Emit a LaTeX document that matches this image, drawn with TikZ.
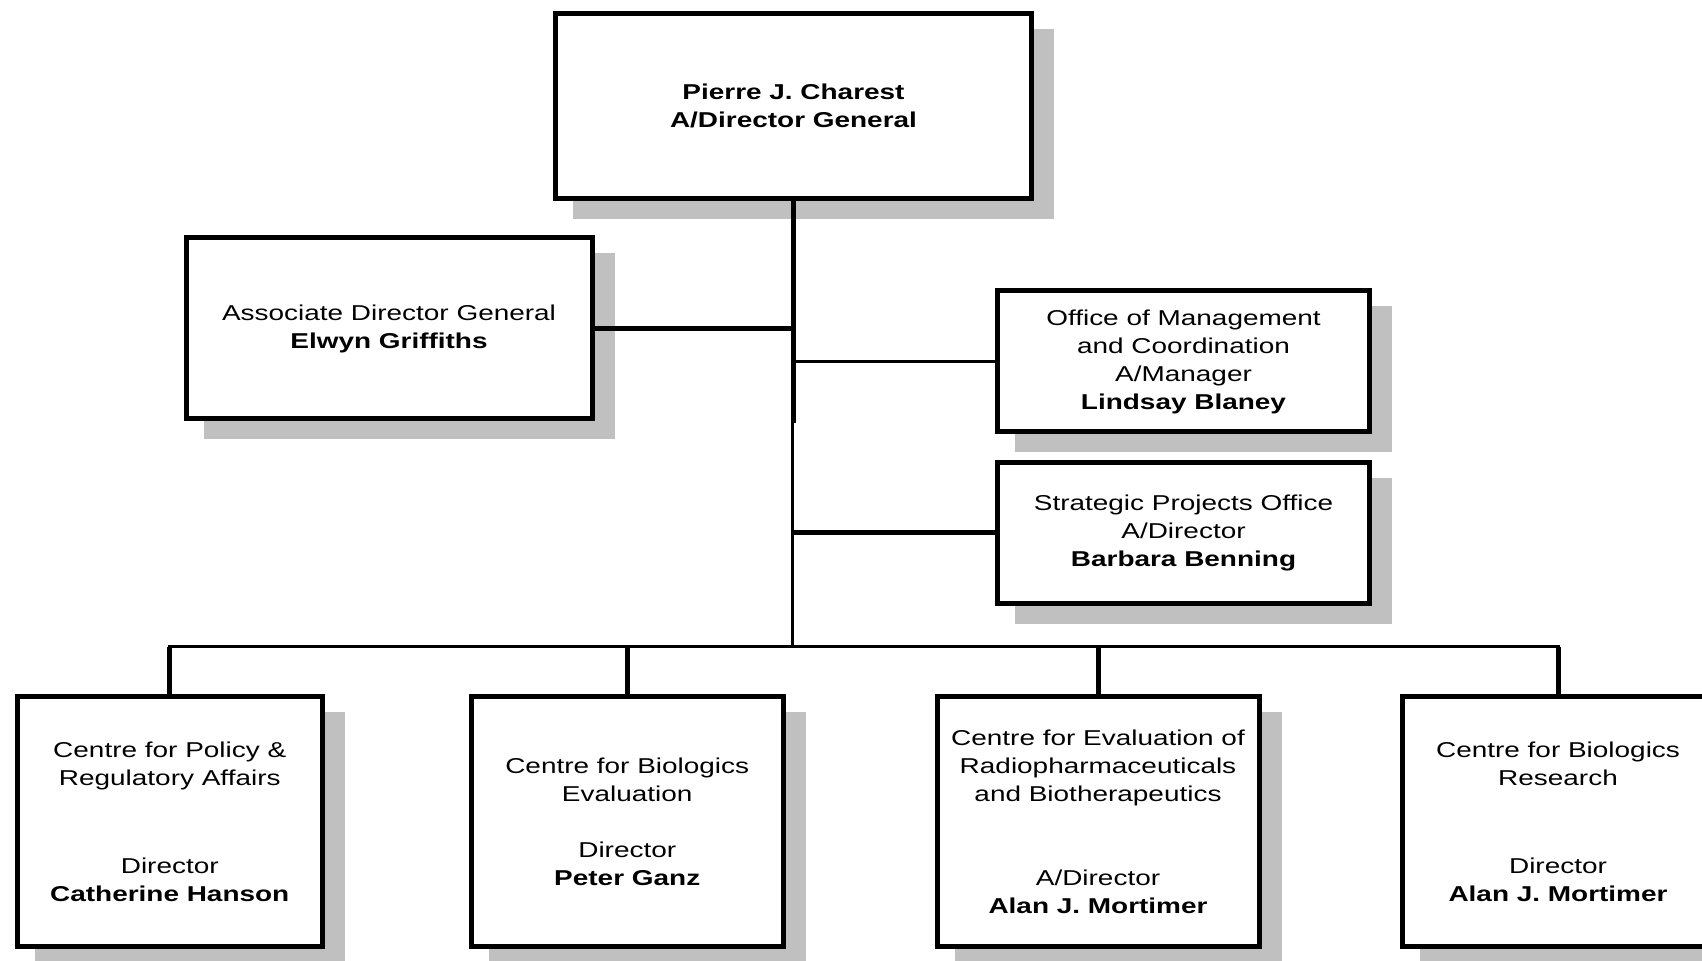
\documentclass[tikz,border=0pt]{standalone}
\usepackage{fontspec}
\setmainfont{Liberation Sans}[FakeStretch=1.3]
\usetikzlibrary{shadows}
\definecolor{shadowgray}{RGB}{192,192,192}
\tikzset{
  orgbox/.style={draw, line width=2.5pt, fill=white, inner sep=0pt, align=center,
    font=\fontsize{10.75}{14}\selectfont,
    drop shadow={shadow xshift=10pt, shadow yshift=-9pt, fill=shadowgray,
      draw=shadowgray, line width=2.5pt, opacity=1}},
  heavy/.style={line width=2.5pt},
  light/.style={line width=1.35pt},
  busline/.style={line width=1.5pt, line cap=rect},
}
\begin{document}
\begin{tikzpicture}[x=0.5pt, y=-0.5pt]
  \useasboundingbox (0,0) rectangle (1702,961);
  \clip (0,0) rectangle (1702,961);

  % Director General
  \node[orgbox, minimum width=238pt, minimum height=92.5pt] (dg) at (793.5,106)
    {\textbf{Pierre J. Charest}\\\textbf{A/Director General}};

  % Staff boxes
  \node[orgbox, minimum width=203pt, minimum height=90.5pt] (assoc) at (389,328.5)
    {Associate Director General\\\textbf{Elwyn Griffiths}};
  \node[orgbox, minimum width=186pt, minimum height=70.5pt] (office) at (1183.5,361.5)
    {Office of Management\\and Coordination\\A/Manager\\\textbf{Lindsay Blaney}};
  \node[orgbox, minimum width=186pt, minimum height=70.5pt] (spo) at (1183.5,533)
    {Strategic Projects Office\\A/Director\\\textbf{Barbara Benning}};

  % Centres
  \node[orgbox, minimum width=152.25pt, minimum height=124.5pt] (c1) at (169.75,821.5)
    {Centre for Policy \&\\Regulatory Affairs\\[30pt]Director\\\textbf{Catherine Hanson}};
  \node[orgbox, minimum width=155.75pt, minimum height=124.5pt] (c2) at (627.25,821.5)
    {Centre for Biologics\\Evaluation\\[14pt]Director\\\textbf{Peter Ganz}};
  \node[orgbox, minimum width=161pt, minimum height=124.5pt] (c3) at (1098,821.5)
    {Centre for Evaluation of\\Radiopharmaceuticals\\and Biotherapeutics\\[28pt]A/Director\\\textbf{Alan J. Mortimer}};
  \node[orgbox, minimum width=156pt, minimum height=124.5pt] (c4) at (1558,821.5)
    {Centre for Biologics\\Research\\[30pt]Director\\\textbf{Alan J. Mortimer}};

  % Trunk junctions
  \coordinate (split) at (793.5,423);
  \coordinate (tb) at (792.3,423);
  \coordinate (bus) at (792.3,647);

  % Trunk
  \draw[heavy] (dg.south) -- (split);
  \draw[light] (tb) -- (bus);

  % Staff connectors
  \draw[heavy] (assoc.east) -- (assoc.east -| split);
  \draw[light] (office.west) -- (office.west -| split);
  \draw[heavy] (spo.west) -- (spo.west -| tb);

  % Bus to the centres
  \draw[busline] (c1.north |- bus) -- (c4.north |- bus);
  \foreach \c in {c1,c2,c3,c4}
    \draw[heavy] (\c.north) -- (\c.north |- bus);
\end{tikzpicture}
\end{document}
